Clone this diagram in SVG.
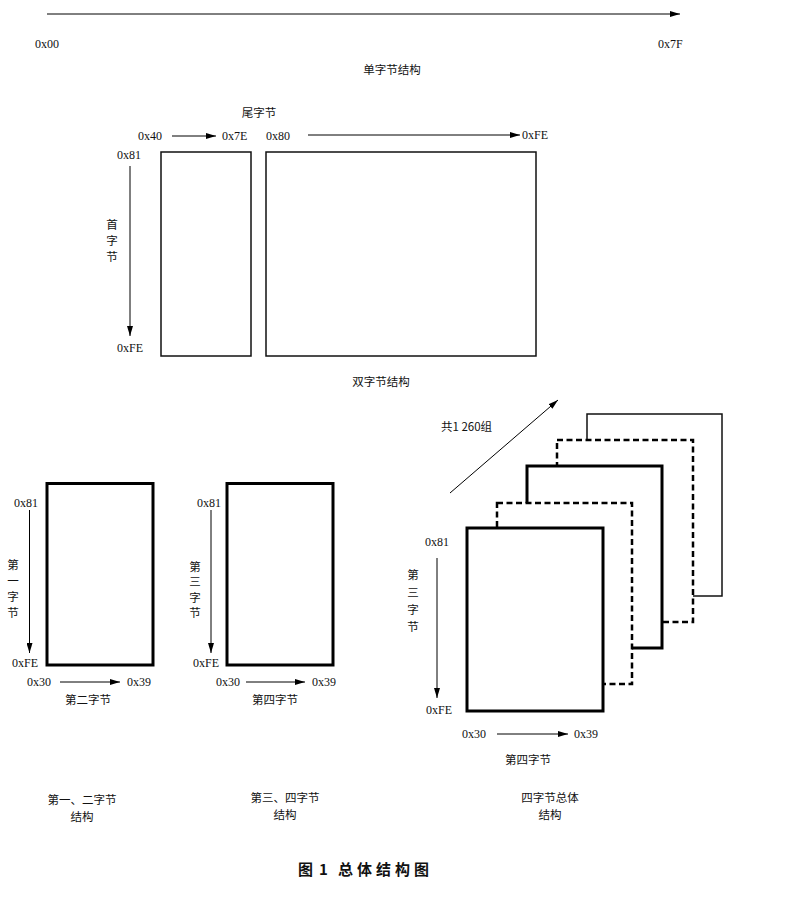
<svg xmlns="http://www.w3.org/2000/svg" width="790" height="900" viewBox="0 0 790 900">
<defs>
<marker id="ah" viewBox="0 0 10 6" refX="10" refY="3" markerWidth="10" markerHeight="6" markerUnits="userSpaceOnUse" orient="auto">
<path d="M0,0 L10,3 L0,6 Z" fill="#000"/>
</marker>
<style>
.hx{font-family:"Liberation Serif","DejaVu Serif",serif;font-size:12px;fill:#111}
.cn{font-family:"Noto Sans CJK SC","Noto Sans",sans-serif;font-size:11.5px;fill:#111}
.cm{font-family:"Noto Sans CJK SC","Noto Sans",sans-serif;font-size:11.5px;fill:#111;text-anchor:middle}
.ttl{font-family:"Noto Sans CJK SC","Noto Sans",sans-serif;font-size:15px;font-weight:bold;fill:#111}
.ar{stroke:#000;stroke-width:1;fill:none;marker-end:url(#ah)}
.thin{fill:#fff;stroke:#111;stroke-width:1.5}
.thick{fill:#fff;stroke:#000;stroke-width:3}
.dash{fill:#fff;stroke:#000;stroke-width:2.5;stroke-dasharray:6 3.5}
</style>
</defs>
<rect width="790" height="900" fill="#fff"/>

<g id="connectors">
<line class="ar" x1="47" y1="14" x2="680" y2="14"/>
<line class="ar" x1="172" y1="136" x2="216" y2="136"/>
<line class="ar" x1="308" y1="135" x2="520" y2="135"/>
<line class="ar" x1="130" y1="166" x2="130" y2="336"/>
<line class="ar" x1="29.5" y1="510" x2="29.5" y2="653"/>
<line class="ar" x1="60" y1="682" x2="120" y2="682"/>
<line class="ar" x1="211" y1="510" x2="211" y2="653"/>
<line class="ar" x1="246" y1="682" x2="305" y2="682"/>
<line class="ar" x1="450" y1="493" x2="558" y2="400"/>
<line class="ar" x1="437" y1="558" x2="437" y2="698"/>
<line class="ar" x1="497" y1="734" x2="568" y2="734"/>
</g>

<g id="single-byte">
<text class="hx" x="35" y="48">0x00</text>
<text class="hx" x="658" y="48">0x7F</text>
<text class="cm" x="392" y="74">单字节结构</text>
</g>

<g id="double-byte">
<rect class="thin" x="161" y="152" width="90" height="204"/>
<rect class="thin" x="266" y="152" width="270" height="204"/>
<text class="cm" x="259" y="117">尾字节</text>
<text class="hx" x="138" y="140">0x40</text>
<text class="hx" x="222" y="140">0x7E</text>
<text class="hx" x="266" y="140">0x80</text>
<text class="hx" x="522" y="139">0xFE</text>
<text class="hx" x="117" y="159">0x81</text>
<text class="hx" x="117" y="352">0xFE</text>
<text class="cm" x="112" y="229">首</text>
<text class="cm" x="112" y="245">字</text>
<text class="cm" x="112" y="261">节</text>
<text class="cm" x="381" y="386">双字节结构</text>
</g>

<g id="byte12">
<rect class="thick" x="47" y="483.5" width="106" height="181.5"/>
<text class="hx" x="14" y="507">0x81</text>
<text class="hx" x="12" y="667">0xFE</text>
<text class="cm" x="13" y="569">第</text>
<text class="cm" x="13" y="585">一</text>
<text class="cm" x="13" y="601">字</text>
<text class="cm" x="13" y="617">节</text>
<text class="hx" x="27" y="686">0x30</text>
<text class="hx" x="127" y="686">0x39</text>
<text class="cm" x="88" y="704">第二字节</text>
<text class="cm" x="82" y="804">第一、二字节</text>
<text class="cm" x="82" y="821">结构</text>
</g>

<g id="byte34">
<rect class="thick" x="227" y="483.5" width="106" height="181.5"/>
<text class="hx" x="197" y="507">0x81</text>
<text class="hx" x="193" y="667">0xFE</text>
<text class="cm" x="195" y="571">第</text>
<text class="cm" x="195" y="586">三</text>
<text class="cm" x="195" y="602">字</text>
<text class="cm" x="195" y="617">节</text>
<text class="hx" x="216" y="686">0x30</text>
<text class="hx" x="312" y="686">0x39</text>
<text class="cm" x="275" y="704">第四字节</text>
<text class="cm" x="285" y="802">第三、四字节</text>
<text class="cm" x="285" y="819">结构</text>
</g>

<g id="byte4-stack">
<rect class="thin" x="587" y="414" width="135" height="182"/>
<rect class="dash" x="557" y="440" width="136" height="182"/>
<rect class="thick" x="527" y="466" width="135" height="182"/>
<rect class="dash" x="497" y="503" width="135" height="181"/>
<rect class="thick" x="467" y="528" width="136" height="183"/>
<text class="cn" x="441" y="431">共1 260组</text>
<text class="hx" x="425" y="546">0x81</text>
<text class="hx" x="426" y="714">0xFE</text>
<text class="cm" x="413" y="579">第</text>
<text class="cm" x="413" y="597">三</text>
<text class="cm" x="413" y="614">字</text>
<text class="cm" x="413" y="631">节</text>
<text class="hx" x="462" y="738">0x30</text>
<text class="hx" x="574" y="738">0x39</text>
<text class="cm" x="528" y="764">第四字节</text>
<text class="cm" x="550" y="802">四字节总体</text>
<text class="cm" x="550" y="819">结构</text>
</g>

<g id="caption">
<text class="ttl" y="875"><tspan x="298">图</tspan><tspan x="319">1</tspan><tspan x="338" letter-spacing="4">总体结构图</tspan></text>
</g>
</svg>
